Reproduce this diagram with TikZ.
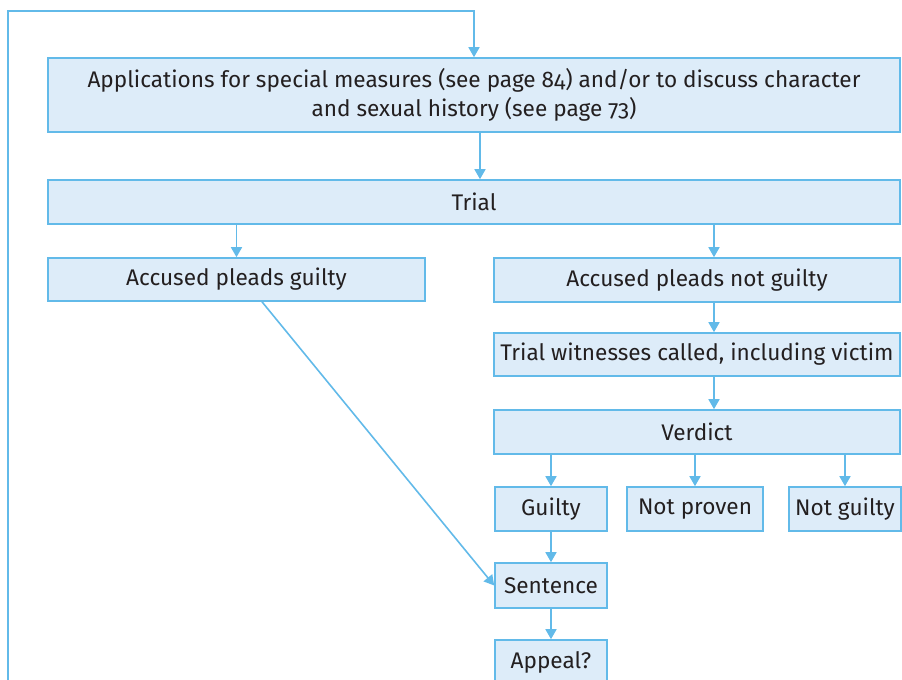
\documentclass[tikz,border=0pt]{standalone}
\usepackage{fontspec}
\setmainfont[Numbers=OldStyle]{Fira Sans}
\usepackage{xcolor}
\usetikzlibrary{arrows.meta}
\definecolor{lineblue}{RGB}{98,186,233}
\definecolor{fillblue}{RGB}{221,236,249}
\definecolor{txtgray}{RGB}{35,31,32}

\begin{document}
\begin{tikzpicture}[
    x=0.5pt, y=-0.5pt,
    box/.style={rectangle, draw=lineblue, fill=fillblue, line width=0.8pt, inner sep=0pt, minimum height=22pt, align=center, text=txtgray, font=\fontsize{11.3}{14.5}\selectfont},
    arrow/.style={-{Triangle[width=5.5pt,length=5pt]}, draw=lineblue, line width=0.8pt}
]
\clip (0,0) rectangle (902,680);

% Nodes
\node[box, minimum width=426pt, minimum height=37pt] (apps) at (474,95) {Applications for special measures (see page 84) and/or to discuss character\\and sexual history (see page 73)};
\node[box, minimum width=426pt] (trial) at (474,202) {Trial};
\node[box, minimum width=188.5pt, minimum height=21.5pt] (guiltyplea) at (236.5,279.5) {Accused pleads guilty};
\node[box, minimum width=203pt] (notguiltyplea) at (697,280) {Accused pleads not guilty};
\node[box, minimum width=203pt, minimum height=21.5pt] (witnesses) at (697,354.5) {Trial witnesses called, including victim};
\node[box, minimum width=203pt] (verdict) at (697,432) {Verdict};

% Verdict outcomes
\node[box, minimum width=56pt] (guilty) at (551,509) {Guilty};
\node[box, minimum width=68pt] (notproven) at (695,509) {Not proven};
\node[box, minimum width=56pt] (notguilty) at (845,509) {Not guilty};

\node[box, minimum width=56pt, minimum height=22.5pt] (sentence) at (551,585.5) {Sentence};
\node[box, minimum width=56pt, minimum height=22.5pt] (appeal) at (551,662.5) {Appeal?};

% Helper coordinates
\coordinate (spine) at (714,0);
\coordinate (loopstart) at (8,690);

% Arrows
\draw[arrow] (loopstart) |- (8,11) -| (apps.north);
\draw[arrow] ([xshift=3pt]apps.south) -- ([xshift=3pt]trial.north);
\draw[arrow] (trial.south -| guiltyplea.north) -- (guiltyplea.north);
\draw[arrow] (spine |- trial.south) -- (spine |- notguiltyplea.north);
\draw[arrow] (spine |- notguiltyplea.south) -- (spine |- witnesses.north);
\draw[arrow] (spine |- witnesses.south) -- (spine |- verdict.north);
\draw[arrow] (verdict.south -| guilty.north) -- (guilty.north);
\draw[arrow] (verdict.south -| notproven.north) -- (notproven.north);
\draw[arrow] (verdict.south -| notguilty.north) -- (notguilty.north);
\draw[arrow] (guilty) -- (sentence);
\draw[arrow] (sentence) -- (appeal);
\draw[arrow] ([xshift=12.75pt]guiltyplea.south) -- (sentence.west);

\end{tikzpicture}
\end{document}
